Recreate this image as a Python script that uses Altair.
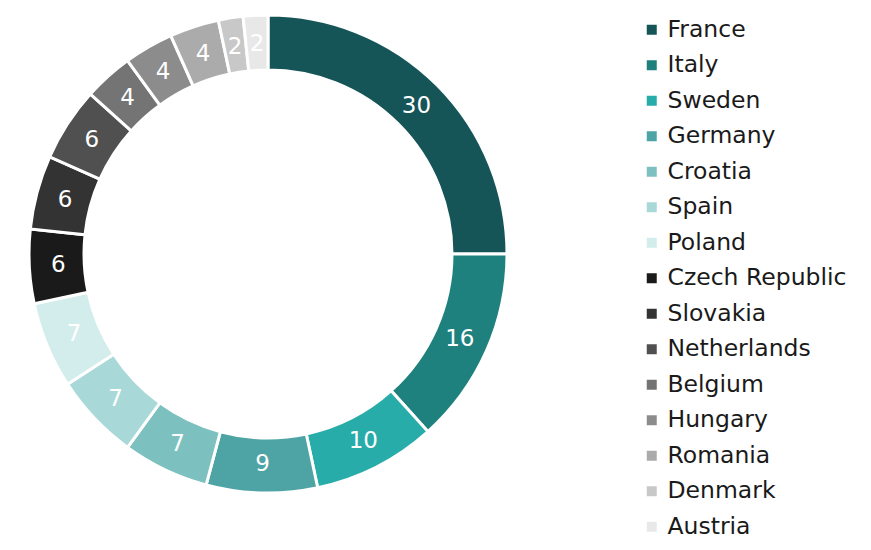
import altair as alt
import pandas as pd

countries = ["France", "Italy", "Sweden", "Germany", "Croatia", "Spain", "Poland",
             "Czech Republic", "Slovakia", "Netherlands", "Belgium", "Hungary",
             "Romania", "Denmark", "Austria"]
values = [30, 16, 10, 9, 7, 7, 7, 6, 6, 6, 4, 4, 4, 2, 2]
colors = ["#155457", "#1e817e", "#27acaa", "#4ea4a4", "#7cc0bf", "#a8d8d8", "#d3ecec",
          "#1a1a1a", "#333333", "#505050", "#747474", "#8c8c8c", "#ababab",
          "#c8c8c8", "#e8e8e8"]

df = pd.DataFrame({"country": countries, "value": values, "idx": list(range(len(countries)))})

FONT = "DejaVu Sans"

base = alt.Chart(df).encode(
    theta=alt.Theta("value:Q", stack=True),
    order=alt.Order("idx:Q", sort="ascending"),
)

arcs = base.mark_arc(outerRadius=239, innerRadius=184, stroke="white", strokeWidth=3).encode(
    color=alt.Color(
        "country:N",
        scale=alt.Scale(domain=countries, range=colors),
        sort=countries,
        legend=alt.Legend(
            title=None,
            orient="none",
            legendX=632,
            legendY=10,
            symbolType="square",
            symbolSize=100,
            symbolStrokeWidth=0,
            labelFontSize=23.5,
            labelFont=FONT,
            labelColor="#1a1a1a",
            labelOffset=4,
            rowPadding=10.5,
            labelLimit=300,
        ),
    )
)

labels = base.mark_text(radius=210, fontSize=23, font=FONT, color="white").encode(
    text=alt.Text("value:Q")
)

chart = (arcs + labels).properties(width=520, height=492, padding=0).configure_view(stroke=None)

chart.save("out.html", embed_options={"renderer": "svg", "actions": False})
